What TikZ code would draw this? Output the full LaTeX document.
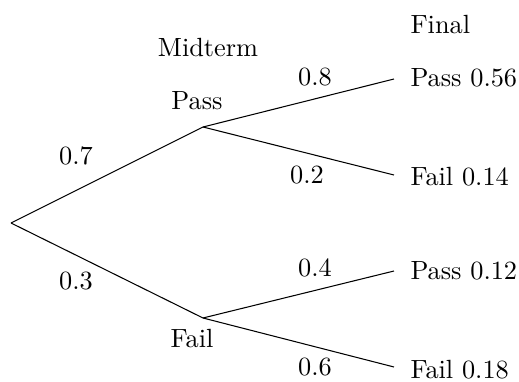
\documentclass[tikz,border=0pt]{standalone}
\begin{document}
\begin{tikzpicture}[x=0.38pt,y=-0.38pt,
  branch/.style={line width=0.4pt},
  lbl/.style={inner sep=0pt},
  leaf/.style={inner sep=0pt,anchor=west}]
\useasboundingbox (0,0) rectangle (519,382);
% branch points
\coordinate (root) at (11,223);
\coordinate (mp) at (203,127);
\coordinate (mf) at (203,318);
\coordinate (pp) at (394,79);
\coordinate (pf) at (394,175);
\coordinate (fp) at (394,271);
\coordinate (ff) at (394,367);
% connectors
\draw[branch] (root) -- (mp);
\draw[branch] (root) -- (mf);
\draw[branch] (mp) -- (pp);
\draw[branch] (mp) -- (pf);
\draw[branch] (mf) -- (fp);
\draw[branch] (mf) -- (ff);
% headings
\node[lbl] (midterm) at (208,48) {Midterm};
\node[leaf] (final) at (410,25) {Final};
% midterm labels
\node[lbl] (passm) at (197,101) {Pass};
\node[lbl] (failm) at (192,339) {Fail};
% probabilities
\node[lbl] (p07) at (76,156) {0.7};
\node[lbl] (p03) at (76,281) {0.3};
\node[lbl] (p08) at (315,77) {0.8};
\node[lbl] (p02) at (307,175) {0.2};
\node[lbl] (p04) at (315,268) {0.4};
\node[lbl] (p06) at (315,367) {0.6};
% leaves
\node[leaf] (lpp) at (410,78) {Pass 0.56};
\node[leaf] (lpf) at (410,177) {Fail 0.14};
\node[leaf] (lfp) at (410,271) {Pass 0.12};
\node[leaf] (lff) at (410,370) {Fail 0.18};
\end{tikzpicture}
\end{document}
